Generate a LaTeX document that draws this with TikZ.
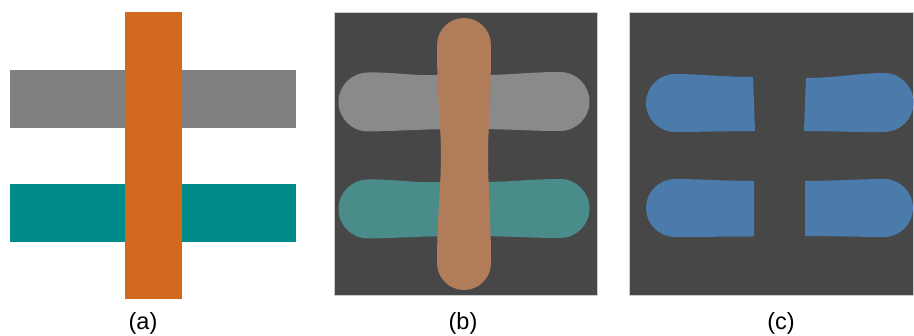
\documentclass[tikz,border=0pt]{standalone}
\usepackage{fontspec}
\setmainfont{Liberation Sans}
\definecolor{barorange}{HTML}{D2691E}
\definecolor{bargray}{HTML}{808080}
\definecolor{barteal}{HTML}{008B8B}
\definecolor{panelbg}{HTML}{474747}
\definecolor{softgray}{HTML}{8A8A8A}
\definecolor{softteal}{HTML}{4A8C8A}
\definecolor{softorange}{HTML}{B07C5A}
\definecolor{blobblue}{HTML}{4B7BAA}
\tikzset{
  panel/.style={fill=panelbg, draw=black!20, line width=0.8pt},
  caption/.style={font=\fontsize{23.5}{28}\selectfont, inner sep=0pt}
}
\begin{document}
\begin{tikzpicture}[x=1pt, y=-1pt]
\path[use as bounding box] (0,0) rectangle (914,336);

% (a) input strips
\fill[bargray] (10,70) rectangle (296,128);
\fill[barteal] (10,184) rectangle (296,242);
\fill[barorange] (124.5,12.5) rectangle (182,299.5);
\node[caption] (capa) at (143,323.5) {(a)};

% (b) smoothed strips
\draw[panel] (334,12.5) rectangle (597,295);
\fill[softgray] (368,72.5) .. controls (395,72) and (410,76) .. (440,75)
  -- (490,75) .. controls (520,74) and (535,72) .. (560,72)
  arc (-90:90:29.5)
  .. controls (530,131) and (510,129) .. (470,129)
  .. controls (420,129) and (400,131) .. (368,131.5)
  arc (90:270:29.5) -- cycle;
\fill[softteal] (368,179.5) .. controls (395,179) and (410,183) .. (440,182)
  -- (490,182) .. controls (520,181) and (535,179) .. (560,179)
  arc (-90:90:29.5)
  .. controls (530,238) and (510,236) .. (470,236)
  .. controls (420,236) and (400,238) .. (368,238.5)
  arc (90:270:29.5) -- cycle;
\fill[softorange] (437,45) arc (180:360:27)
  .. controls (491,100) and (488,130) .. (488,155)
  .. controls (488,185) and (491,220) .. (491,263)
  arc (0:180:27)
  .. controls (437,220) and (441,185) .. (441,155)
  .. controls (441,125) and (437,100) .. (437,45) -- cycle;
\node[caption] (capb) at (463,323.5) {(b)};

% (c) remaining pieces
\draw[panel] (629,12.5) rectangle (913.5,295);
\fill[blobblue] (675,74) .. controls (700,74) and (725,77) .. (753,77)
  -- (755,131) .. controls (730,131) and (700,132) .. (675,132)
  arc (90:270:29) -- cycle;
\fill[blobblue] (806,78) .. controls (835,78) and (860,73) .. (884,73)
  arc (-90:90:29.5)
  .. controls (860,132.5) and (830,131) .. (804,131) -- cycle;
\fill[blobblue] (675,179) .. controls (700,179) and (725,181) .. (754,181)
  -- (754,236.5) .. controls (730,236.5) and (700,237) .. (675,237)
  arc (90:270:29) -- cycle;
\fill[blobblue] (805,181) .. controls (835,181) and (860,179) .. (884,179)
  arc (-90:90:29)
  .. controls (860,237) and (830,236) .. (805,236) -- cycle;
\node[caption] (capc) at (781,323.5) {(c)};
\end{tikzpicture}
\end{document}
